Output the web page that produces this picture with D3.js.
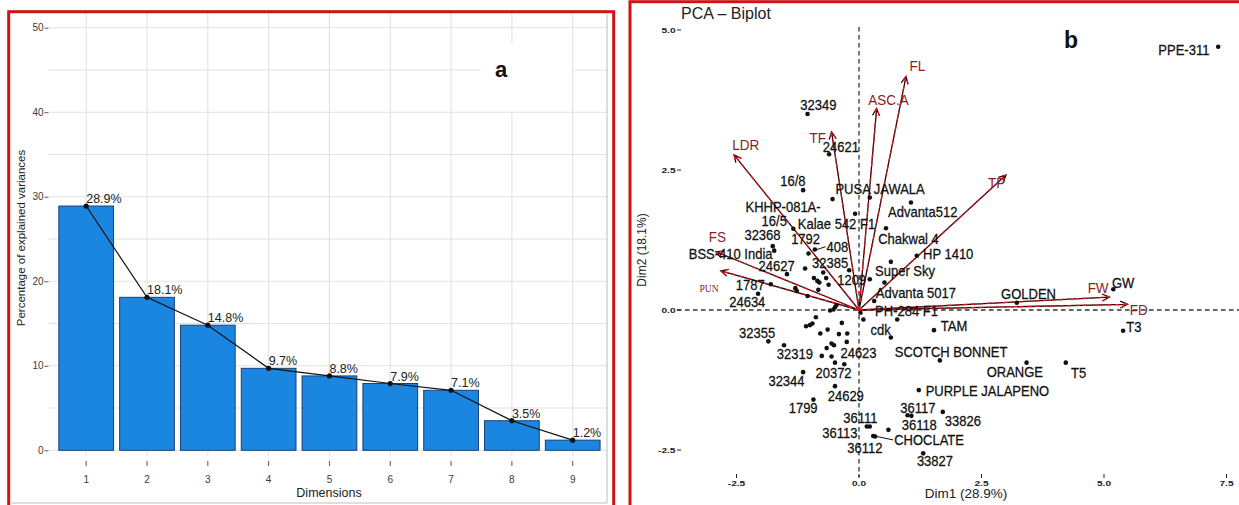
<!DOCTYPE html>
<html>
<head>
<meta charset="utf-8">
<script src="https://cdn.jsdelivr.net/npm/d3@7"></script>
<style>
  body { margin: 0; background: #fff; }
  svg { display: block; font-family: "Liberation Sans", Arial, sans-serif; }
</style>
</head>
<body>
<svg id="fig" width="1239" height="505"></svg>
<script>
// ---------- data: scree plot (a)
const dims = [1, 2, 3, 4, 5, 6, 7, 8, 9];
const explained = [28.9, 18.1, 14.8, 9.7, 8.8, 7.9, 7.1, 3.5, 1.2];
const yTicksA = [0, 10, 20, 30, 40, 50];

// ---------- data: biplot (b)
const xTicksB = [-2.5, 0, 2.5, 5, 7.5];
const yTicksB = [-2.5, 0, 2.5, 5];

const genotypes = [
  { name: 'PPE-311', x: 7.33, y: 4.70 },
  { name: '32349', x: -1.05, y: 3.50 },
  { name: '24621', x: -0.61, y: 2.78 },
  { name: '16/8', x: -1.14, y: 2.14 },
  { name: 'KHHP-081A-', x: -0.54, y: 1.98 },
  { name: 'PUSA JAWALA', x: 0.22, y: 2.01 },
  { name: 'Advanta512', x: 1.06, y: 1.92 },
  { name: 'Kalae 542 F1', x: -0.08, y: 1.72 },
  { name: 'Chakwal 4', x: 0.55, y: 1.46 },
  { name: '16/5', x: -1.34, y: 1.45 },
  { name: '32368', x: -1.76, y: 1.14 },
  { name: 'BSS-410 India', x: -1.73, y: 1.06 },
  { name: '1792', x: -1.03, y: 1.01 },
  { name: '408', x: -0.90, y: 1.08 },
  { name: 'HP 1410', x: 1.18, y: 0.97 },
  { name: '32385', x: -0.20, y: 0.71 },
  { name: 'Super Sky', x: 0.65, y: 0.86 },
  { name: '24627', x: -1.47, y: 0.64 },
  { name: '1209', x: 0.22, y: 0.55 },
  { name: '1787', x: -1.80, y: 0.46 },
  { name: '24634', x: -2.06, y: 0.29 },
  { name: 'Advanta 5017', x: 0.31, y: 0.16 },
  { name: 'GOLDEN', x: 3.22, y: 0.13 },
  { name: 'GW', x: 5.19, y: 0.37 },
  { name: 'T3', x: 5.39, y: -0.37 },
  { name: 'PH-284 F1', x: 0.03, y: -0.05 },
  { name: 'cdk', x: 0.09, y: -0.17 },
  { name: 'TAM', x: 1.53, y: -0.36 },
  { name: 'SCOTCH BONNET', x: 1.65, y: -0.90 },
  { name: 'ORANGE', x: 3.42, y: -0.94 },
  { name: 'T5', x: 4.22, y: -0.94 },
  { name: 'PURPLE JALAPENO', x: 1.22, y: -1.43 },
  { name: '36117', x: 0.99, y: -1.88 },
  { name: '36118', x: 1.07, y: -1.89 },
  { name: '33826', x: 1.71, y: -1.82 },
  { name: '36111', x: 0.16, y: -2.08 },
  { name: '36113', x: 0.22, y: -2.08 },
  { name: 'CHOCLATE', x: 0.33, y: -2.26 },
  { name: '36112', x: 0.29, y: -2.25 },
  { name: '33827', x: 1.31, y: -2.56 },
  { name: '32355', x: -1.85, y: -0.56 },
  { name: '32319', x: -0.76, y: -0.82 },
  { name: '24623', x: -0.56, y: -0.83 },
  { name: '20372', x: -0.49, y: -0.94 },
  { name: '32344', x: -1.14, y: -1.11 },
  { name: '24629', x: -0.49, y: -1.36 },
  { name: '1799', x: -0.93, y: -1.60 }
];

// repelled label spots (same order as genotypes), data units
const labelSpots = [
  [6.63, 4.64], [-0.83, 3.66], [-0.37, 2.91], [-1.35, 2.30], [-1.55, 1.85],
  [0.43, 2.17], [1.30, 1.76], [-0.46, 1.54], [1.01, 1.27], [-1.73, 1.59],
  [-1.97, 1.34], [-2.62, 1.00], [-1.09, 1.27], [-0.44, 1.13], [1.82, 1.01],
  [-0.59, 0.85], [0.94, 0.70], [-1.68, 0.79], [-0.15, 0.54], [-2.22, 0.45],
  [-2.28, 0.15], [1.16, 0.30], [3.46, 0.28], [5.39, 0.49], [5.61, -0.30],
  [0.97, -0.01], [0.44, -0.35], [1.94, -0.29], [1.88, -0.74], [3.18, -1.10],
  [4.48, -1.12], [2.62, -1.44], [1.20, -1.74], [1.23, -2.05], [2.12, -1.98],
  [0.03, -1.92], [-0.39, -2.20], [1.43, -2.32], [0.12, -2.47], [1.55, -2.70],
  [-2.08, -0.40], [-1.31, -0.79], [-0.01, -0.77], [-0.52, -1.13], [-1.48, -1.27],
  [-0.27, -1.53], [-1.14, -1.74]
];
const leaderNames = ['408', 'CHOCLATE'];

// genotypes whose labels were dropped (overlaps)
const otherPoints = [
  [-1.10, 0.74], [-0.73, 0.67], [-0.92, 0.57], [-0.85, 0.52], [-0.81, 0.49],
  [-0.67, 0.57], [-0.62, 0.45], [-1.30, 0.39], [-1.27, 0.34], [-1.05, 0.25],
  [-0.83, 0.36], [0.52, 0.49], [-0.46, 0.09], [-0.49, 0.05], [-0.52, 0.01],
  [-0.59, -0.01], [0.78, -0.17], [0.65, -0.49], [-0.88, -0.13], [-0.95, -0.24],
  [-1.00, -0.27], [-1.08, -0.29], [-0.35, -0.23], [-0.64, -0.35], [-0.79, -0.42],
  [-0.41, -0.43], [-0.24, -0.42], [-0.25, -0.57], [-0.56, -0.60], [-0.51, -0.63],
  [-0.66, -0.68], [-1.53, -0.63], [-0.30, -0.97], [0.60, -2.14]
];

const variables = [
  { name: 'FL', x: 0.96, y: 4.17 },
  { name: 'ASC.A', x: 0.36, y: 3.60 },
  { name: 'TF', x: -0.56, y: 3.18 },
  { name: 'LDR', x: -2.55, y: 2.77 },
  { name: 'TP', x: 3.00, y: 2.41 },
  { name: 'FS', x: -2.92, y: 1.04 },
  { name: 'PUN', x: -2.82, y: 0.70 },
  { name: 'FW', x: 5.11, y: 0.23 },
  { name: 'FD', x: 5.48, y: 0.10 }
];
const varLabelSpots = [
  [1.19, 4.36], [0.60, 3.76], [-0.84, 3.07], [-2.31, 2.95], [2.81, 2.27],
  [-2.89, 1.30], [-3.06, 0.38], [4.88, 0.40], [5.71, 0.00]
];

const svg = d3.select('#fig');

// =========================== panel a ===========================
const gA = svg.append('g');
const xA = d3.scaleBand().domain(dims).range([49.7, 609.2]).paddingInner(0.1).paddingOuter(0.15);
const yA = d3.scaleLinear().domain([0, 50]).range([450.3, 27.7]);
const cx = d => xA(d) + xA.bandwidth() / 2;

// grid
gA.selectAll('line.hgrid').data(d3.range(0, 51, 5)).join('line')
  .attr('class', 'hgrid')
  .attr('x1', 48.5).attr('x2', 607)
  .attr('y1', d => yA(d)).attr('y2', d => yA(d))
  .attr('stroke', '#e2e2e2').attr('stroke-width', 1.1);
gA.selectAll('line.vgrid').data(dims).join('line')
  .attr('class', 'vgrid')
  .attr('x1', cx).attr('x2', cx)
  .attr('y1', 13).attr('y2', 456)
  .attr('stroke', '#e2e2e2').attr('stroke-width', 1.1);

// white patch under the "a" tag
gA.append('rect').attr('x', 481).attr('y', 43).attr('width', 91).attr('height', 67).attr('fill', '#fff');

// bars
gA.selectAll('rect.bar').data(explained).join('rect')
  .attr('class', 'bar')
  .attr('x', (d, i) => xA(dims[i]))
  .attr('width', xA.bandwidth())
  .attr('y', d => yA(d))
  .attr('height', d => yA(0) - yA(d))
  .attr('fill', '#1b86e0')
  .attr('stroke', '#1c3f73')
  .attr('stroke-width', 1);

// line + points
gA.append('path')
  .datum(explained)
  .attr('d', d3.line().x((d, i) => cx(dims[i])).y(d => yA(d)))
  .attr('fill', 'none').attr('stroke', '#111').attr('stroke-width', 1.2);
gA.selectAll('circle.pt').data(explained).join('circle')
  .attr('class', 'pt')
  .attr('cx', (d, i) => cx(dims[i])).attr('cy', d => yA(d))
  .attr('r', 2.6).attr('fill', '#111');
gA.selectAll('text.pct').data(explained).join('text')
  .attr('class', 'pct')
  .attr('x', (d, i) => cx(dims[i]))
  .attr('y', d => yA(d) - 3)
  .attr('font-size', 12.5).attr('fill', '#222')
  .text(d => d.toFixed(1) + '%');

// axes
const axA_y = gA.append('g').attr('transform', 'translate(48.5,0)')
  .call(d3.axisLeft(yA).tickValues(yTicksA).tickSize(4).tickPadding(1));
const axA_x = gA.append('g').attr('transform', 'translate(0,461)')
  .call(d3.axisBottom(xA).tickSize(5).tickSizeOuter(0).tickPadding(10));
[axA_y, axA_x].forEach(ax => {
  ax.select('.domain').remove();
  ax.selectAll('line').attr('stroke', '#555');
  ax.selectAll('text').attr('font-size', 10).attr('fill', '#3a3a3a')
    .attr('font-family', '"Liberation Sans", Arial, sans-serif');
});

gA.append('text')
  .attr('x', 329).attr('y', 497)
  .attr('text-anchor', 'middle').attr('font-size', 12.5).attr('fill', '#222')
  .text('Dimensions');
gA.append('text')
  .attr('transform', 'translate(20.7,238) rotate(-90)')
  .attr('text-anchor', 'middle').attr('dominant-baseline', 'central')
  .attr('font-size', 11.5).attr('fill', '#222')
  .text('Percentage of explained variances');

gA.append('text')
  .attr('x', 501).attr('y', 77)
  .attr('text-anchor', 'middle').attr('font-size', 22).attr('font-weight', 'bold')
  .attr('fill', '#111').text('a');

// inner image frame + red frame
gA.append('path').attr('d', 'M607,14V503H11').attr('fill', 'none').attr('stroke', '#bdbdbd').attr('stroke-width', 1);
gA.append('rect').attr('x', 8.7).attr('y', 11.7).attr('width', 605).attr('height', 500)
  .attr('fill', 'none').attr('stroke', '#cc1414').attr('stroke-width', 3);

// =========================== panel b ===========================
const gB = svg.append('g');
const xB = d3.scaleLinear().domain([0, 5]).range([859, 1104]);
const yB = d3.scaleLinear().domain([0, 5]).range([310, 30]);

// reference dashed lines
gB.append('line')
  .attr('x1', xB(0)).attr('x2', xB(0)).attr('y1', 27).attr('y2', 477)
  .attr('stroke', '#333').attr('stroke-width', 1.3).attr('stroke-dasharray', '4.5,3.5');
gB.append('line')
  .attr('x1', 677).attr('x2', 1239).attr('y1', yB(0)).attr('y2', yB(0))
  .attr('stroke', '#333').attr('stroke-width', 1.3).attr('stroke-dasharray', '4.5,3.5');

// ticks
gB.selectAll('line.yt').data(yTicksB).join('line')
  .attr('class', 'yt')
  .attr('x1', 677).attr('x2', 681).attr('y1', d => yB(d)).attr('y2', d => yB(d))
  .attr('stroke', '#222').attr('stroke-width', 1);
gB.selectAll('text.yt').data(yTicksB).join('text')
  .attr('class', 'yt')
  .attr('transform', d => `translate(675.5,${yB(d)}) scale(1.35,1)`)
  .attr('text-anchor', 'end').attr('dy', '0.35em')
  .attr('font-size', 7.5).attr('font-weight', 'bold').attr('fill', '#222')
  .text(d => d3.format('.1f')(d).replace('−', '-'));
gB.selectAll('line.xt').data(xTicksB).join('line')
  .attr('class', 'xt')
  .attr('x1', d => xB(d)).attr('x2', d => xB(d)).attr('y1', 474).attr('y2', 478)
  .attr('stroke', '#222').attr('stroke-width', 1);
gB.selectAll('text.xt').data(xTicksB).join('text')
  .attr('class', 'xt')
  .attr('transform', d => `translate(${xB(d)},486) scale(1.35,1)`)
  .attr('text-anchor', 'middle')
  .attr('font-size', 7.5).attr('font-weight', 'bold').attr('fill', '#222')
  .text(d => d3.format('.1f')(d).replace('−', '-'));

// variable arrows: dark line with red dashes on top
const arrowG = gB.append('g');
function arrowPath(v) {
  const x1 = xB(0), y1 = yB(0), x2 = xB(v.x), y2 = yB(v.y);
  const a = Math.atan2(y2 - y1, x2 - x1);
  const L = 8, w = 0.45;
  const p1 = [x2 - L * Math.cos(a - w), y2 - L * Math.sin(a - w)];
  const p2 = [x2 - L * Math.cos(a + w), y2 - L * Math.sin(a + w)];
  return `M${x1},${y1}L${x2},${y2}M${p1}L${x2},${y2}L${p2}`;
}
arrowG.selectAll('path.base').data(variables).join('path')
  .attr('class', 'base').attr('d', arrowPath)
  .attr('fill', 'none').attr('stroke', '#2a0606').attr('stroke-width', 1.3);
arrowG.selectAll('path.dash').data(variables).join('path')
  .attr('class', 'dash').attr('d', arrowPath)
  .attr('fill', 'none').attr('stroke', '#e3141c').attr('stroke-width', 1.3)
  .attr('stroke-dasharray', '4,4');

// points
gB.selectAll('circle.op').data(otherPoints).join('circle')
  .attr('class', 'op')
  .attr('cx', d => xB(d[0])).attr('cy', d => yB(d[1])).attr('r', 2.3).attr('fill', '#111');
gB.selectAll('circle.gp').data(genotypes).join('circle')
  .attr('class', 'gp')
  .attr('cx', d => xB(d.x)).attr('cy', d => yB(d.y)).attr('r', 2.3).attr('fill', '#111');

// genotype labels (slightly taller glyphs, as in the original export)
const labs = gB.selectAll('text.gl').data(genotypes).join('text')
  .attr('class', 'gl')
  .attr('transform', (d, i) => `translate(${xB(labelSpots[i][0])},${yB(labelSpots[i][1])}) scale(0.97,1.06)`)
  .attr('text-anchor', 'middle').attr('dy', '0.36em')
  .attr('font-size', 13.4).attr('fill', '#111')
  .attr('stroke', '#111').attr('stroke-width', 0.25)
  .text(d => d.name);

// leader segments
labs.filter(d => leaderNames.includes(d.name)).each(function (d) {
  const idx = genotypes.indexOf(d);
  const w = this.getComputedTextLength() * 0.97;
  gB.append('line')
    .attr('x1', xB(d.x) + 2).attr('y1', yB(d.y))
    .attr('x2', xB(labelSpots[idx][0]) - w / 2 - 1).attr('y2', yB(labelSpots[idx][1]))
    .attr('stroke', '#111').attr('stroke-width', 1);
});

// variable labels
gB.selectAll('text.vl').data(variables).join('text')
  .attr('class', 'vl')
  .attr('transform', (d, i) => `translate(${xB(varLabelSpots[i][0])},${yB(varLabelSpots[i][1])}) scale(1,1.06)`)
  .attr('text-anchor', 'middle').attr('dy', '0.36em')
  .attr('font-size', d => d.name === 'PUN' ? 9.5 : 13.5)
  .attr('font-family', d => d.name === 'PUN' ? '"Liberation Serif", "Times New Roman", serif' : null)
  .attr('fill', '#8b1c24')
  .text(d => d.name);

// titles
gB.append('text').attr('x', 681).attr('y', 18.5)
  .attr('font-size', 16).attr('fill', '#222').text('PCA \u2013 Biplot');
gB.append('text').attr('x', 966).attr('y', 498)
  .attr('text-anchor', 'middle').attr('font-size', 13.5).attr('fill', '#222')
  .text('Dim1 (28.9%)');
gB.append('text')
  .attr('transform', 'translate(642,250) rotate(-90)')
  .attr('text-anchor', 'middle').attr('dominant-baseline', 'central')
  .attr('font-size', 12).attr('fill', '#222')
  .text('Dim2 (18.1%)');
gB.append('text').attr('x', 1071).attr('y', 48)
  .attr('text-anchor', 'middle').attr('font-size', 23).attr('font-weight', 'bold')
  .attr('fill', '#111').text('b');

gB.append('rect').attr('x', 630).attr('y', 1.7).attr('width', 620).attr('height', 520)
  .attr('fill', 'none').attr('stroke', '#cc1414').attr('stroke-width', 3);
</script>
</body>
</html>
